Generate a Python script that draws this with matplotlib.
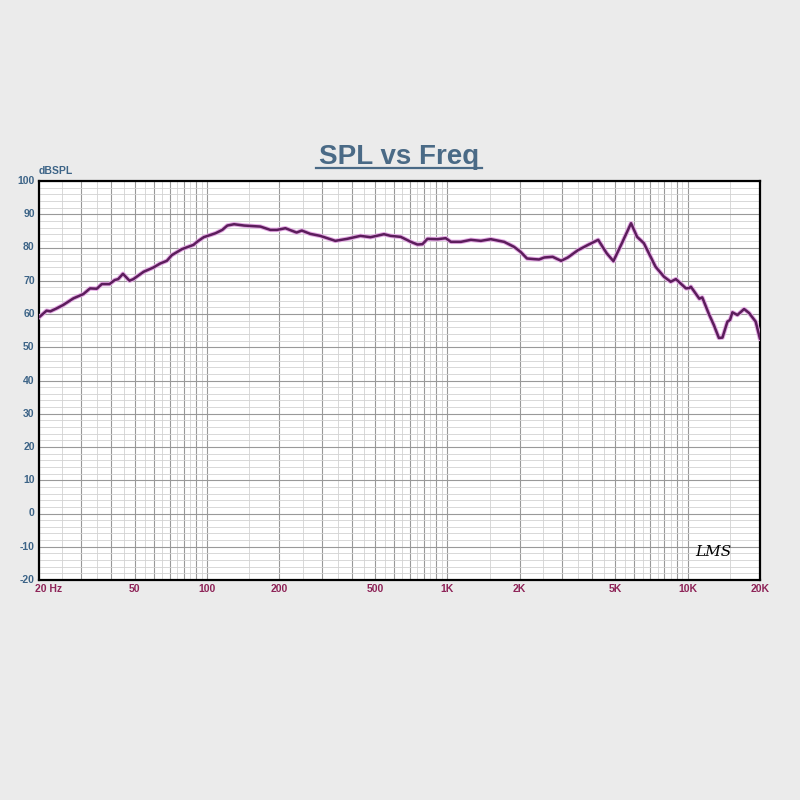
"""
SPL vs Freq — risposta in frequenza (stile LMS)
"""
import numpy as np
import matplotlib
matplotlib.use("Agg")
import matplotlib.pyplot as plt
import matplotlib.transforms as mtransforms

# ─── Dati ────────────────────────────────────────────────────────────────────
freq_hz = [20, 21.5, 22.3, 23.7, 25.2, 27.8, 30.6, 32.6, 34.8, 36.5, 39.3,
           41.3, 42.7, 44.7, 47.6, 49.4, 54.5, 59.9, 63.9, 68.1, 71.4, 78.6,
           87.9, 90.9, 96.9, 108.6, 115.8, 121.5, 129.6, 142.8, 166.7, 183.5,
           195.7, 212, 236, 248, 269, 296, 342, 383, 435, 479, 545, 581, 640,
           705, 751, 788, 827, 910, 985, 1035, 1139, 1253, 1379, 1517, 1724,
           1895, 2017, 2145, 2300, 2408, 2532, 2743, 2974, 3173, 3496, 3852,
           4244, 4600, 4910, 5326, 5813, 6161, 6572, 7354, 7973, 8505, 8936,
           9838, 10150, 10315, 11182, 11500, 12256, 12850, 13486, 13957,
           14636, 15000, 15356, 16110, 17176, 18013, 19189, 20000]
spl_db = [59.0, 61.0, 60.8, 61.7, 62.7, 64.7, 66.0, 67.7, 67.6, 69.0, 69.0,
          70.2, 70.5, 72.1, 70.0, 70.5, 72.7, 74.0, 75.2, 76.0, 77.7, 79.5,
          80.8, 81.7, 83.1, 84.3, 85.3, 86.6, 87.0, 86.6, 86.3, 85.3,
          85.3, 85.8, 84.5, 85.1, 84.1, 83.5, 82.0, 82.6, 83.5, 83.1, 84.0,
          83.5, 83.2, 81.7, 80.9, 81.0, 82.6, 82.5, 82.8, 81.7, 81.7, 82.3,
          82.0, 82.5, 81.7, 80.2, 78.7, 76.7, 76.5, 76.4, 77.0, 77.2, 76.0,
          77.0, 79.2, 80.8, 82.3, 78.3, 75.9, 81.3, 87.3, 83.2, 81.3, 74.2,
          71.2, 69.7, 70.5, 67.7, 67.8, 68.2, 64.6, 65.0, 60.0, 56.7, 52.8,
          52.9, 57.7, 58.2, 60.5, 59.7, 61.5, 60.3, 57.7, 52.5]

x_tick_freqs = [20, 50, 100, 200, 500, 1000, 2000, 5000, 10000, 20000]
x_tick_labels = ["20 Hz", "50", "100", "200", "500", "1K", "2K", "5K", "10K", "20K"]
y_ticks = list(range(-20, 101, 10))

BG = "#ebebeb"
CURVE = "#5c1d5c"
HALO = "#e3a9e3"
Y_LAB = "#3d6487"
X_LAB = "#8e2458"
TITLE = "#4a6a86"

plt.rcParams["font.family"] = ["Liberation Sans", "DejaVu Sans"]

fig = plt.figure(figsize=(8, 8), dpi=100)
fig.patch.set_facecolor(BG)
ax = fig.add_axes([0.04875, 0.275, 0.90125, 0.49875])
ax.set_facecolor("white")

ax.set_xscale("log")
ax.set_xlim(20, 20000)
ax.set_ylim(-20, 100)

# Griglia: multipli interi (maggiori) e mezzi passi (minori)
major_x, minor_x = [], []
for dec in [10, 100, 1000, 10000]:
    for m in range(1, 10):
        f = m * dec
        if 20 <= f <= 20000:
            major_x.append(f)
        fh = (m + 0.5) * dec
        if 20 < fh < 20000:
            minor_x.append(fh)
ax.set_xticks(major_x)
ax.set_xticks(minor_x, minor=True)
ax.set_yticks(y_ticks)
ax.set_yticks(np.arange(-20, 101, 2), minor=True)
ax.grid(which="major", color="#999999", linewidth=0.8)
ax.grid(which="minor", color="#d2d2d2", linewidth=0.6)
ax.set_axisbelow(True)
ax.tick_params(which="both", length=0, labelbottom=False, labelleft=False)

for sp in ax.spines.values():
    sp.set_color("black")
    sp.set_linewidth(1.6)

# Curva con alone
ax.plot(freq_hz, spl_db, color=HALO, linewidth=3.2, solid_joinstyle="round",
        solid_capstyle="round", zorder=3)
ax.plot(freq_hz, spl_db, color=CURVE, linewidth=1.8, solid_joinstyle="round",
        solid_capstyle="round", zorder=4)

# Etichette asse Y
for v in y_ticks:
    ax.text(-0.006, v, str(v), transform=ax.get_yaxis_transform(),
            ha="right", va="center", fontsize=7.5, fontweight="bold", color=Y_LAB)
ax.text(0.0, 1.012, "dBSPL", transform=ax.transAxes, ha="left", va="bottom",
        fontsize=7.5, fontweight="bold", color=Y_LAB)

# Etichette asse X
xt = ax.get_xaxis_transform()
for f, lab in zip(x_tick_freqs, x_tick_labels):
    if lab == "20 Hz":
        off = mtransforms.offset_copy(xt, fig=fig, x=-3, y=0, units="points")
        ax.text(f, -0.022, lab, transform=off, ha="left", va="center",
                fontsize=7.5, fontweight="bold", color=X_LAB)
    else:
        ax.text(f, -0.022, lab, transform=xt, ha="center", va="center",
                fontsize=7.5, fontweight="bold", color=X_LAB)

# Titolo sottolineato
fig.text(0.4985, 0.804, "SPL vs Freq", ha="center", va="center",
         fontsize=20, fontweight="bold", color=TITLE)
fig.add_artist(plt.Line2D([0.395, 0.602], [0.7895, 0.7895], color=TITLE,
                          linewidth=1.6, transform=fig.transFigure))

# Firma LMS
ax.text(0.96, 0.07, "LMS", transform=ax.transAxes, ha="right", va="center",
        fontsize=11, style="italic", family="DejaVu Serif", color="black")

plt.savefig("out.png", dpi=100, facecolor=BG)
